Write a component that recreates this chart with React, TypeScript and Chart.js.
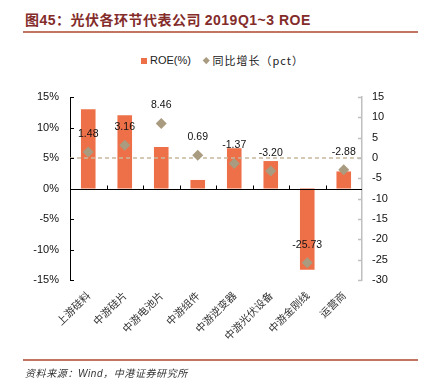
import React, { useEffect, useRef } from "react";
import { Chart, registerables } from "chart.js";

Chart.register(...registerables);

const categories = ["上游硅料", "中游硅片", "中游电池片", "中游组件", "中游逆变器", "中游光伏设备", "中游金刚线", "运营商"];
const roeValues = [13.0, 12.0, 6.8, 1.4, 6.6, 4.5, -13.3, 2.8];
const yoyValues = [1.48, 3.16, 8.46, 0.69, -1.37, -3.2, -25.73, -2.88];
const leftTicks = [-15, -10, -5, 0, 5, 10, 15];
const rightTicks = [-30, -25, -20, -15, -10, -5, 0, 5, 10, 15];

const BAR_COLOR = "#EE7049";
const DIAMOND_COLOR = "#A99B7F";
const LATIN = "'Liberation Sans', Arial, sans-serif";
const CJK = "'Noto Sans CJK SC', sans-serif";

const decoPlugin = {
  id: "deco",
  afterDatasetDraw(chart: any, args: any) {
    if (args.index !== 0) return;
    const ctx = chart.ctx;
    const area = chart.chartArea;
    const y = chart.scales.y;
    const y2 = chart.scales.y2;
    ctx.save();
    const yd = y2.getPixelForValue(0);
    ctx.strokeStyle = "#C9B89C";
    ctx.lineWidth = 1.5;
    ctx.setLineDash([4, 3]);
    ctx.beginPath();
    ctx.moveTo(area.left, yd);
    ctx.lineTo(area.right, yd);
    ctx.stroke();
    ctx.setLineDash([]);
    const y0 = Math.round(y.getPixelForValue(0)) + 0.5;
    ctx.strokeStyle = "#000";
    ctx.lineWidth = 1;
    ctx.beginPath();
    ctx.moveTo(area.left, y0);
    ctx.lineTo(area.right, y0);
    const n = categories.length;
    const cw = (area.right - area.left) / n;
    for (let i = 1; i < n; i++) {
      const x = Math.round(area.left + i * cw) + 0.5;
      ctx.moveTo(x, y0);
      ctx.lineTo(x, y0 - 4);
    }
    ctx.stroke();
    ctx.beginPath();
    ctx.strokeStyle = "#000";
    leftTicks.forEach((v) => {
      const py = Math.round(y.getPixelForValue(v)) + 0.5;
      ctx.moveTo(area.left, py);
      ctx.lineTo(area.left + 4, py);
    });
    ctx.stroke();
    ctx.beginPath();
    ctx.strokeStyle = "#BFBFBF";
    ctx.lineWidth = 1.5;
    rightTicks.forEach((v) => {
      const py = Math.round(y2.getPixelForValue(v)) + 0.5;
      ctx.moveTo(area.right, py);
      ctx.lineTo(area.right - 4, py);
    });
    ctx.stroke();
    ctx.restore();
  },
  afterDatasetsDraw(chart: any) {
    const ctx = chart.ctx;
    const meta = chart.getDatasetMeta(1);
    ctx.save();
    ctx.fillStyle = "#111";
    ctx.font = `10.5px ${LATIN}`;
    ctx.textAlign = "center";
    ctx.textBaseline = "middle";
    meta.data.forEach((pt: any, i: number) => {
      ctx.fillText(yoyValues[i].toFixed(2), pt.x, pt.y - 18);
    });
    ctx.restore();
  },
};

export default function App() {
  const ref = useRef<HTMLCanvasElement>(null);
  useEffect(() => {
    if (!ref.current) return;
    const chart = new Chart(ref.current, {
      type: "bar",
      data: {
        labels: categories,
        datasets: [
          {
            type: "bar",
            label: "ROE(%)",
            data: roeValues,
            backgroundColor: BAR_COLOR,
            borderWidth: 0,
            barPercentage: 0.4,
            categoryPercentage: 1,
            yAxisID: "y",
            order: 2,
          } as any,
          {
            type: "line",
            label: "同比增长（pct）",
            data: yoyValues,
            showLine: false,
            pointStyle: "rectRot",
            pointRadius: 5.5,
            pointHoverRadius: 5.5,
            pointBackgroundColor: DIAMOND_COLOR,
            pointBorderWidth: 0,
            backgroundColor: DIAMOND_COLOR,
            yAxisID: "y2",
            order: 1,
          } as any,
        ],
      },
      options: {
        animation: false,
        responsive: false,
        maintainAspectRatio: false,
        events: [],
        layout: { padding: { top: 97, left: 0, right: 0, bottom: 0 } },
        plugins: {
          legend: { display: false },
          tooltip: { enabled: false },
          title: { display: false },
        },
        scales: {
          x: {
            position: "bottom",
            offset: true,
            grid: { display: false, drawTicks: false },
            border: { display: false },
            ticks: {
              minRotation: 45,
              maxRotation: 45,
              autoSkip: false,
              padding: 9,
              color: "#333",
              font: { family: CJK, size: 10.5 },
            },
            afterFit: (s: any) => {
              s.height = 111;
            },
          },
          y: {
            position: "left",
            min: -15,
            max: 15,
            grid: { display: false, drawTicks: false },
            border: { display: true, color: "#000", width: 1 },
            ticks: {
              stepSize: 5,
              padding: 11,
              color: "#111",
              font: { family: LATIN, size: 11 },
              callback: (v: any) => `${v}%`,
            },
            afterFit: (s: any) => {
              s.width = 70;
            },
          },
          y2: {
            position: "right",
            min: -30,
            max: 15,
            grid: { display: false, drawTicks: false },
            border: { display: true, color: "#BFBFBF", width: 1.5 },
            ticks: {
              stepSize: 5,
              padding: 10,
              color: "#111",
              font: { family: LATIN, size: 11 },
            },
            afterFit: (s: any) => {
              s.width = 69;
            },
          },
        },
      } as any,
      plugins: [decoPlugin],
    });
    return () => chart.destroy();
  }, []);

  return (
    <div style={{ position: "absolute", left: 0, top: 0, width: 431, height: 391, background: "#fff", overflow: "hidden" }}>
      <div
        style={{
          position: "absolute",
          left: 25,
          top: 10,
          fontSize: 14,
          fontWeight: "bold",
          color: "#832C2A",
          fontFamily: CJK,
          whiteSpace: "nowrap",
          lineHeight: "18px",
          letterSpacing: 0.5,
        }}
      >
        图<span style={{ fontFamily: LATIN }}>45</span>：光伏各环节代表公司 <span style={{ fontFamily: LATIN }}>2019Q1~3 ROE</span>
      </div>
      <div style={{ position: "absolute", left: 23, top: 31, width: 395, height: 2, background: "#C27662" }} />
      <div
        style={{
          position: "absolute",
          left: 0,
          top: 53,
          width: 431,
          display: "flex",
          justifyContent: "center",
          alignItems: "center",
          fontSize: 11,
          color: "#222",
          lineHeight: "15px",
          paddingLeft: 14,
          boxSizing: "border-box",
        }}
      >
        <span style={{ display: "inline-block", width: 6, height: 6, background: BAR_COLOR, marginRight: 3 }} />
        <span style={{ fontFamily: LATIN }}>ROE(%)</span>
        <span
          style={{
            display: "inline-block",
            width: 4.5,
            height: 4.5,
            background: DIAMOND_COLOR,
            transform: "rotate(45deg)",
            marginLeft: 13,
            marginRight: 4,
          }}
        />
        <span style={{ fontFamily: CJK, letterSpacing: 1 }}>同比增长（pct）</span>
      </div>
      <canvas ref={ref} width={431} height={391} style={{ position: "absolute", left: 0, top: 0, width: 431, height: 391 }} />
      <div style={{ position: "absolute", left: 23, top: 359, width: 395, height: 2, background: "#C27662" }} />
      <div
        style={{
          position: "absolute",
          left: 25,
          top: 366,
          fontSize: 10,
          fontStyle: "italic",
          color: "#333",
          fontFamily: CJK,
          lineHeight: "14px",
          whiteSpace: "nowrap",
          letterSpacing: 0.6,
        }}
      >
        资料来源：<span style={{ fontFamily: LATIN }}>Wind</span>，中港证券研究所
      </div>
    </div>
  );
}
